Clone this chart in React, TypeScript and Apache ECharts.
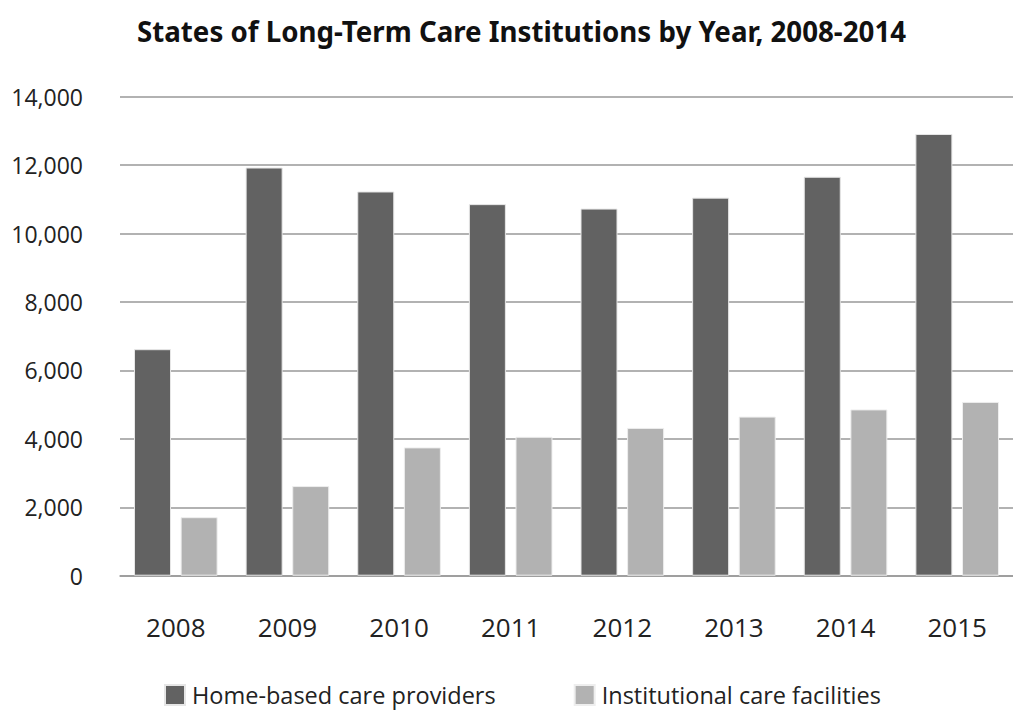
import React, { useEffect, useRef } from "react";
import * as echarts from "echarts";

const years = ["2008", "2009", "2010", "2011", "2012", "2013", "2014", "2015"];
const homeBased = [6620, 11930, 11230, 10860, 10730, 11050, 11660, 12910];
const institutional = [1710, 2620, 3750, 4060, 4320, 4650, 4860, 5080];
const seriesNames = ["Home-based care providers", "Institutional care facilities"];
const titleText = "States of Long-Term Care Institutions by Year, 2008-2014";

export default function App() {
  const ref = useRef<HTMLDivElement>(null);
  useEffect(() => {
    document.body.style.margin = "0";
    const chart = echarts.init(ref.current!, null, { renderer: "svg" });
    const font = "Open Sans";
    chart.setOption({
      animation: false,
      backgroundColor: "#ffffff",
      title: {
        text: titleText,
        left: 132,
        top: 12,
        textStyle: { fontFamily: "Noto Sans", fontWeight: "bold", fontSize: 27.7, color: "#111" },
      },
      grid: { left: 120, top: 96.7, width: 899, bottom: 138.3 },
      legend: {
        left: 164,
        top: 683,
        padding: 0,
        itemWidth: 20,
        itemHeight: 20,
        itemGap: 78,
        icon: "rect",
        textStyle: { fontFamily: font, fontSize: 23.5, color: "#222", padding: [0, 0, 0, 2] },
        data: seriesNames,
      },
      xAxis: {
        type: "category",
        data: years,
        axisLine: { lineStyle: { color: "#999", width: 1.5 } },
        axisTick: { show: false },
        axisLabel: { fontFamily: font, fontSize: 26, color: "#222", margin: 38 },
      },
      yAxis: {
        type: "value",
        min: 0,
        max: 14000,
        interval: 2000,
        axisLine: { show: false },
        axisTick: { show: false },
        splitLine: { lineStyle: { color: "#999", width: 1.5 } },
        axisLabel: {
          fontFamily: font,
          fontSize: 23,
          color: "#222",
          margin: 37,
          formatter: (v: number) => v.toLocaleString("en-US"),
        },
      },
      series: [
        {
          name: seriesNames[0],
          type: "bar",
          data: homeBased,
          barWidth: 37,
          barGap: "26%",
          itemStyle: { color: "#626262", borderColor: "#e6e6e6", borderWidth: 1 },
        },
        {
          name: seriesNames[1],
          type: "bar",
          data: institutional,
          barWidth: 37,
          barGap: "26%",
          itemStyle: { color: "#b2b2b2", borderColor: "#eeeeee", borderWidth: 1 },
        },
      ],
    });
    return () => chart.dispose();
  }, []);
  return <div ref={ref} style={{ width: 1013, height: 714 }} />;
}
